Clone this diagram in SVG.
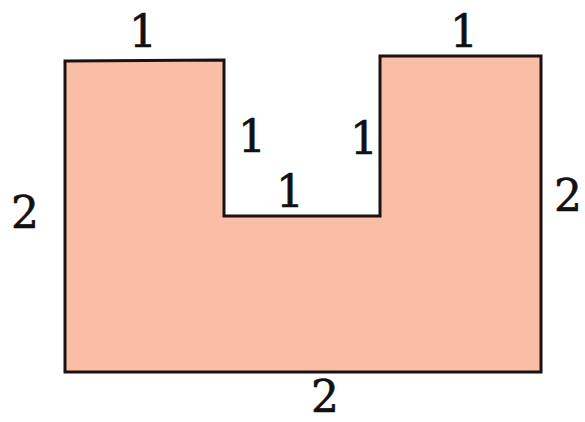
<svg xmlns="http://www.w3.org/2000/svg" width="585" height="422" viewBox="0 0 585 422">
<style>
.shape{fill:#F9BEA5;stroke:#1a1212;stroke-width:3;stroke-linejoin:miter}
.lbl{font-family:"DejaVu Serif","Liberation Serif",serif;font-size:44px;fill:#111;stroke:#111;stroke-width:0.6;text-anchor:middle}
</style>
<rect width="585" height="422" fill="#ffffff"/>
<g id="shape">
<path class="shape" d="M65,61 L224,60 L224,216 L380,216 L380,56 L541,56 L541,372 L65,372 Z"/>
</g>
<g id="labels">
<text class="lbl" x="143" y="47">1</text>
<text class="lbl" x="464" y="47">1</text>
<text class="lbl" x="252" y="152">1</text>
<text class="lbl" x="364" y="154">1</text>
<text class="lbl" x="290" y="207">1</text>
<text class="lbl" x="25" y="228">2</text>
<text class="lbl" x="568" y="211">2</text>
<text class="lbl" x="325" y="412">2</text>
</g>
</svg>
